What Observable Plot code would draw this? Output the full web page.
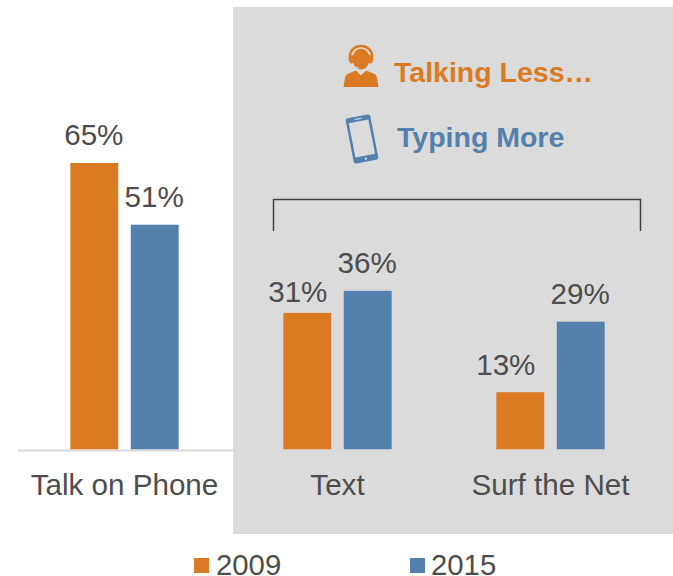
<!DOCTYPE html>
<html><head><meta charset="utf-8">
<script src="https://cdn.jsdelivr.net/npm/d3@7"></script>
<script src="https://cdn.jsdelivr.net/npm/@observablehq/plot@0.6"></script>
<style>
html,body{margin:0;padding:0;background:#fff;overflow:hidden}
#wrap{position:relative;width:673px;height:576px;font-family:"Liberation Sans",Arial,sans-serif;color:#4d4d4d}
#panel{position:absolute;left:233px;top:7px;width:440px;height:527px;background:#dbdbdb}
#chart{position:absolute;left:0;top:0}
#chart svg{background:transparent;display:block}
#deco{position:absolute;left:0;top:0}
.head{position:absolute;font-weight:bold;font-size:28.5px;line-height:32px;white-space:nowrap}
.leg{position:absolute;top:552px;font-size:29.3px;line-height:26px;white-space:nowrap}
.sw{position:absolute;top:558px;width:15px;height:15px}
</style></head>
<body>
<div id="wrap">
  <div id="panel"></div>
  <div id="chart"></div>
  <svg id="deco" width="673" height="576" fill="none">
    <path d="M273.500 231V199.500H640.500V231" stroke="#404040" stroke-width="1.500"/>
    <g fill="#da7a22">
      <path d="M343.500 87l1.500-9.500c.5-2.500 2-3.500 4-4.300l7-2.700 5 5 5-5 7 2.700c2 .8 3.500 1.800 4 4.300l1.500 9.500z"/>
      <ellipse cx="361" cy="59" rx="8.500" ry="10.500"/>
      <path d="M350 61v-5a11 10 0 0 1 22 0v5" stroke="#da7a22" stroke-width="2.500" fill="none"/>
      <rect x="349.500" y="55" width="4" height="8.500" rx="2"/>
      <rect x="368.500" y="55" width="4" height="8.500" rx="2"/>
    </g>
    <path d="M353.500 52c2-3 4.500-4 7.500-4s5.500 1 7.500 4" stroke="#f3d9c0" stroke-width="1" fill="none"/>
    <path d="M352 63c1 3 4 5 7 5" stroke="#dbdbdb" stroke-width="1"/>
    <g transform="rotate(-11 362 139)">
      <rect x="349.500" y="116" width="25" height="46" rx="2.500" fill="#5380ac"/>
      <rect x="352" y="121" width="20" height="35" fill="#dbdbdb"/>
      <circle cx="362" cy="159" r="1.200" fill="#dbdbdb"/>
      <rect x="358.500" y="118" width="7" height="1" fill="#dbdbdb"/>
    </g>
  </svg>
  <div class="head" style="left:394px;top:56px;color:#da7a22">Talking Less…</div>
  <div class="head" style="left:397px;top:121px;color:#5380ac">Typing More</div>
  <div class="sw" style="left:194px;background:#da7a22"></div>
  <div class="leg" style="left:216px">2009</div>
  <div class="sw" style="left:410px;background:#5380ac"></div>
  <div class="leg" style="left:431px">2015</div>
</div>
<script>
const categories = ["Talk on Phone", "Text", "Surf the Net"];
const years = ["2009", "2015"];
const colors = ["#da7a22", "#5380ac"];
const values2009 = [65, 31, 13];
const values2015 = [51, 36, 29];

const rows = categories.flatMap((category, i) => [
  {category, year: years[0], value: values2009[i]},
  {category, year: years[1], value: values2015[i]}
]);
const isText = d => d.category === "Text" && d.year === "2009";
const isSurf = d => d.category === "Surf the Net" && d.year === "2009";
const label = {fx: "category", x: "year", y: "value", text: d => d.value + "%", fontSize: 29.6, fill: "#4d4d4d"};

const chart = Plot.plot({
  width: 673,
  height: 576,
  marginLeft: 17,
  marginRight: 16,
  marginTop: 163,
  marginBottom: 126.5,
  style: {background: "transparent", fontFamily: "Liberation Sans, Arial, sans-serif"},
  fx: {domain: categories, padding: 0, label: null},
  x: {domain: years, paddingInner: 0.207, paddingOuter: 0.866, round: false, axis: null},
  y: {domain: [0, 65], axis: null},
  color: {domain: years, range: colors},
  marks: [
    Plot.axisFx({domain: categories, anchor: "bottom", tickSize: 0, tickPadding: 24, fontSize: 29.6, dx: -0.5, label: null, color: "#4d4d4d"}),
    Plot.barY(rows, {fx: "category", x: "year", y: "value", fill: "year"}),
    Plot.ruleY([0], {stroke: "#d9d9d9", strokeWidth: 2, dy: 0.5}),
    Plot.text(rows, {...label, filter: d => !isText(d) && !isSurf(d), dx: -1, dy: -28}),
    Plot.text(rows, {...label, filter: isText, dx: -10, dy: -21}),
    Plot.text(rows, {...label, filter: isSurf, dx: -15, dy: -27})
  ]
});
document.getElementById("chart").appendChild(chart);
</script>
</body></html>
